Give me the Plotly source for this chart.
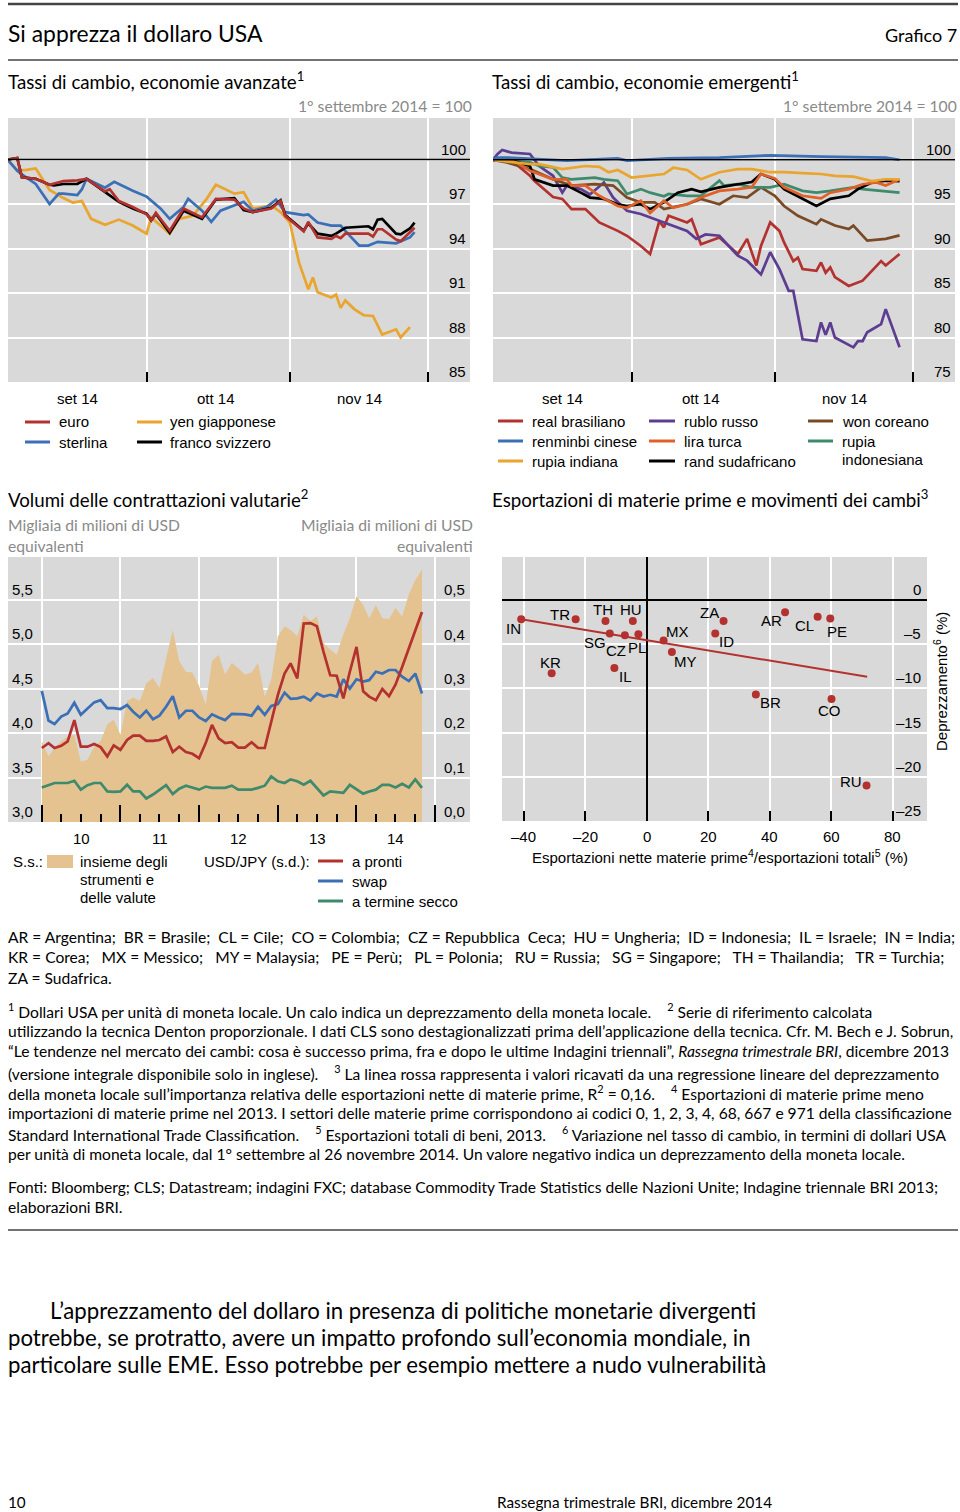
import plotly.graph_objects as go
import pandas as pd

W, H = 960, 1512
SANS = "Liberation Sans, Arial, sans-serif"
LATO = "Lato, Open Sans, sans-serif"

# ---------------- data: advanced economies (day offset from 1 Sep 2014, index) ----------------
eur_days = [0, 2, 3, 6, 9, 12, 15, 17, 21, 22, 24, 27, 30, 31, 32, 35, 38, 42, 45, 49, 51, 53, 57, 59, 60, 64, 65, 67, 70, 71, 72, 73, 78, 79, 80, 81, 84, 85, 87, 88]
eur_vals = [100.0, 100.1, 98.8, 98.7, 98.3, 98.55, 98.6, 98.7, 97.85, 98.0, 97.2, 96.8, 96.3, 95.9, 96.4, 95.2, 96.7, 96.1, 97.35, 97.3, 96.7, 96.45, 96.7, 97.2, 96.2, 95.15, 95.8, 94.75, 94.65, 94.85, 94.7, 95.0, 95.0, 94.8, 95.3, 95.3, 94.6, 94.5, 95.1, 95.4]
chf_days = [0, 2, 3, 6, 9, 10, 12, 15, 17, 21, 24, 27, 30, 31, 32, 35, 38, 42, 45, 49, 51, 53, 57, 59, 60, 64, 65, 67, 70, 71, 72, 73, 78, 79, 80, 81, 84, 85, 87, 88]
chf_vals = [100.0, 100.1, 98.8, 98.7, 98.3, 98.25, 98.35, 98.35, 98.7, 97.8, 97.15, 96.7, 96.35, 95.9, 96.35, 95.05, 96.55, 96.0, 97.3, 97.4, 96.6, 96.45, 96.75, 97.25, 96.25, 95.2, 95.7, 95.0, 94.85, 95.0, 95.2, 95.4, 95.5, 95.3, 95.95, 96.0, 95.0, 94.95, 95.35, 95.75]
gbp_days = [0, 2, 3, 6, 9, 11, 12, 15, 16, 17, 21, 23, 27, 30, 33, 35, 38, 39, 42, 44, 46, 49, 51, 53, 56, 58, 60, 63, 64, 65, 67, 70, 72, 74, 76, 78, 80, 84, 87, 88]
gbp_vals = [99.95, 99.25, 99.0, 98.35, 97.0, 97.7, 97.7, 97.6, 98.0, 98.7, 98.1, 98.5, 97.9, 97.5, 96.7, 96.0, 96.8, 97.35, 96.55, 95.8, 96.55, 96.9, 97.15, 96.55, 96.8, 97.3, 96.45, 96.3, 96.25, 96.3, 95.75, 95.55, 95.55, 94.85, 94.2, 94.2, 94.45, 94.35, 94.75, 95.1]
jpy_days = [0, 2, 4, 6, 9, 12, 14, 16, 18, 21, 24, 27, 30, 31, 33, 35, 37, 40, 43, 45, 49, 51, 53, 57, 59, 61, 63, 65, 66, 67, 70, 71, 72, 73, 75, 77, 79, 81, 84, 85, 87]
jpy_vals = [100.0, 99.25, 99.3, 99.4, 97.95, 97.4, 97.1, 97.2, 96.0, 95.6, 95.95, 95.55, 95.0, 96.1, 95.55, 95.0, 96.0, 96.2, 97.35, 98.3, 97.7, 97.8, 96.7, 96.9, 96.45, 95.75, 93.05, 91.25, 92.05, 91.05, 90.7, 90.9, 90.0, 90.5, 89.9, 89.5, 89.45, 88.2, 88.55, 88.0, 88.7]

# ---------------- data: emerging economies ----------------
brl_days = [0, 1, 5, 8, 9, 13, 15, 17, 20, 23, 27, 29, 32, 34, 36, 37, 38, 42, 43, 45, 49, 53, 55, 57, 58, 60, 62, 63, 65, 66, 67, 70, 71, 72, 73, 74, 77, 80, 84, 85, 88]
brl_vals = [99.9, 100.1, 99.5, 98.2, 97.6, 95.8, 95.6, 94.45, 94.45, 92.95, 92.0, 91.45, 90.3, 89.4, 93.1, 92.4, 93.7, 92.95, 93.3, 90.5, 91.25, 89.4, 91.1, 88.1, 90.3, 92.95, 92.0, 90.7, 88.6, 89.0, 87.7, 87.5, 88.45, 87.3, 87.9, 86.8, 85.8, 86.4, 88.6, 88.1, 89.4]
cny_days = [0, 1, 3, 16, 27, 29, 38, 49, 60, 71, 85, 88]
cny_vals = [100.0, 100.25, 100.25, 99.9, 100.15, 99.9, 100.15, 100.25, 100.5, 100.35, 100.25, 100.0]
inr_days = [0, 3, 8, 10, 15, 20, 23, 25, 27, 30, 34, 37, 39, 42, 45, 49, 53, 56, 60, 63, 67, 71, 74, 78, 82, 85, 88]
inr_vals = [100.0, 99.8, 99.5, 99.5, 98.95, 99.3, 99.2, 98.6, 98.85, 98.0, 98.2, 98.4, 99.1, 98.85, 97.8, 98.6, 98.95, 98.95, 98.6, 98.6, 98.5, 98.4, 98.2, 98.1, 97.6, 97.8, 97.8]
rub_days = [0, 1, 2, 4, 8, 10, 13, 15, 16, 19, 21, 24, 26, 29, 32, 34, 37, 42, 44, 46, 49, 53, 55, 58, 60, 62, 64, 65, 67, 70, 71, 72, 73, 74, 78, 79, 80, 81, 84, 85, 88]
rub_vals = [100.0, 100.65, 101.1, 100.8, 100.65, 99.3, 98.2, 96.3, 97.1, 96.7, 96.1, 97.45, 95.75, 94.25, 93.9, 93.5, 92.95, 92.0, 91.1, 91.6, 91.45, 89.2, 88.65, 87.1, 89.6, 87.7, 85.25, 85.25, 79.8, 79.6, 81.7, 80.3, 81.7, 80.0, 78.9, 79.6, 79.6, 80.6, 81.5, 83.2, 78.9]
try_days = [0, 3, 5, 8, 13, 16, 17, 20, 23, 27, 29, 32, 34, 37, 39, 42, 45, 49, 53, 56, 58, 61, 63, 67, 71, 73, 77, 79, 80, 83, 85, 88]
try_vals = [100.0, 100.1, 99.7, 98.75, 97.8, 97.8, 97.1, 97.1, 95.95, 94.8, 94.6, 95.4, 94.0, 95.4, 94.6, 95.0, 95.75, 96.5, 96.7, 96.9, 98.4, 97.9, 96.9, 95.95, 95.65, 96.3, 96.7, 97.1, 97.25, 97.45, 97.1, 97.8]
zar_days = [0, 3, 8, 9, 13, 16, 19, 21, 24, 27, 29, 32, 34, 37, 40, 43, 45, 49, 53, 56, 58, 61, 63, 67, 70, 73, 77, 79, 82, 85, 88]
zar_vals = [100.0, 100.1, 99.3, 97.8, 97.1, 97.1, 96.3, 95.75, 95.6, 95.0, 94.8, 95.0, 94.45, 95.2, 96.3, 96.7, 96.4, 96.9, 97.25, 97.5, 98.4, 97.8, 96.7, 95.6, 94.8, 95.6, 95.95, 96.7, 97.45, 97.65, 97.6]
krw_days = [0, 3, 8, 13, 17, 22, 26, 29, 32, 35, 37, 42, 45, 49, 52, 55, 58, 61, 63, 66, 70, 71, 74, 77, 78, 81, 85, 88]
krw_vals = [100.0, 99.7, 98.95, 97.8, 97.1, 97.25, 97.1, 95.75, 95.2, 95.2, 94.45, 95.0, 95.6, 95.0, 95.95, 95.75, 96.9, 95.95, 94.8, 93.7, 92.75, 93.3, 92.6, 92.2, 92.6, 90.9, 91.1, 91.5]
idr_days = [0, 3, 8, 10, 13, 15, 17, 22, 24, 27, 29, 32, 34, 37, 38, 42, 45, 49, 50, 53, 56, 60, 63, 67, 70, 73, 78, 80, 85, 88]
idr_vals = [100.0, 99.9, 99.7, 99.3, 99.15, 98.0, 97.8, 98.0, 97.8, 97.65, 96.15, 96.7, 96.3, 95.9, 96.15, 95.95, 95.95, 97.65, 97.1, 97.25, 96.9, 96.9, 97.25, 96.5, 96.3, 96.5, 96.9, 96.7, 96.5, 96.3]

# ---------------- data: FX turnover (monthly from Jan 2010) ----------------
fx_total = [3.91, 3.74, 3.83, 3.91, 3.96, 3.98, 3.68, 3.70, 3.85, 3.91,
            4.10, 4.15, 3.98, 4.36, 4.40, 4.36, 4.56, 4.62, 4.51, 4.84,
            5.16, 4.81, 4.69, 4.68, 4.53, 4.32, 4.81, 4.88, 4.66, 4.79,
            4.73, 4.66, 4.68, 4.79, 4.41, 4.60, 5.09, 5.20, 5.16, 5.09,
            5.33, 5.26, 5.31, 5.01, 4.94, 4.88, 5.11, 5.29, 5.54, 5.44,
            5.29, 5.44, 5.29, 5.28, 5.41, 5.31, 5.56, 5.72, 5.84]
jpy_spot = [0.167, 0.178, 0.167, 0.172, 0.182, 0.230, 0.170, 0.170, 0.176, 0.169,
            0.148, 0.173, 0.163, 0.185, 0.195, 0.195, 0.183, 0.183, 0.185, 0.193,
            0.158, 0.170, 0.158, 0.154, 0.144, 0.178, 0.219, 0.189, 0.178, 0.180,
            0.168, 0.168, 0.180, 0.167, 0.167, 0.227, 0.287, 0.335, 0.358, 0.324,
            0.448, 0.449, 0.442, 0.384, 0.331, 0.330, 0.279, 0.339, 0.395, 0.295,
            0.283, 0.275, 0.300, 0.284, 0.310, 0.350, 0.391, 0.429, 0.474]
jpy_swap = [0.296, 0.229, 0.221, 0.238, 0.245, 0.269, 0.242, 0.257, 0.270, 0.275,
            0.257, 0.257, 0.255, 0.264, 0.249, 0.236, 0.251, 0.232, 0.240, 0.260,
            0.284, 0.236, 0.251, 0.251, 0.236, 0.228, 0.243, 0.236, 0.230, 0.244,
            0.244, 0.243, 0.240, 0.260, 0.242, 0.262, 0.266, 0.292, 0.278, 0.279,
            0.283, 0.274, 0.290, 0.283, 0.287, 0.283, 0.322, 0.301, 0.322, 0.317,
            0.320, 0.339, 0.335, 0.343, 0.343, 0.328, 0.318, 0.335, 0.290]
jpy_fwd = [0.078, 0.084, 0.088, 0.088, 0.088, 0.093, 0.073, 0.083, 0.088, 0.088,
           0.069, 0.068, 0.069, 0.084, 0.069, 0.069, 0.053, 0.062, 0.073, 0.083,
           0.063, 0.075, 0.082, 0.077, 0.073, 0.080, 0.077, 0.077, 0.077, 0.082,
           0.073, 0.073, 0.073, 0.077, 0.082, 0.103, 0.092, 0.088, 0.096, 0.092,
           0.084, 0.093, 0.077, 0.060, 0.069, 0.068, 0.066, 0.084, 0.073, 0.064,
           0.069, 0.073, 0.084, 0.084, 0.078, 0.086, 0.078, 0.096, 0.077]

# ---------------- data: commodity exports vs depreciation ----------------
codes = ["IN", "TR", "TH", "HU", "SG", "CZ", "PL", "IL", "KR", "MX", "MY", "ZA", "ID", "AR", "CL", "PE", "BR", "CO", "RU"]
net_exports = [-40.9, -23.2, -13.5, -4.6, -12.1, -7.2, -2.8, -10.6, -31.0, 5.4, 8.1, 24.9, 22.2, 44.9, 55.5, 59.6, 35.4, 60.0, 71.4]
depreciation = [-2.2, -2.2, -2.4, -2.4, -3.8, -4.0, -3.9, -7.7, -8.3, -4.6, -5.9, -2.4, -3.8, -1.4, -1.9, -2.1, -10.7, -11.2, -21.0]
fit_x = [-40.9, 71.6]
fit_y = [-2.2, -8.7]

adv_ticks = [85, 88, 91, 94, 97, 100]
eme_ticks = [75, 80, 85, 90, 95, 100]
vol_ticks_l = [3.0, 3.5, 4.0, 4.5, 5.0, 5.5]
vol_ticks_r = [0.0, 0.1, 0.2, 0.3, 0.4, 0.5]
sc_xticks = [-40, -20, 0, 20, 40, 60, 80]
sc_yticks = [0, -5, -10, -15, -20, -25]
month_labels = ["set 14", "ott 14", "nov 14"]
year_labels = ["10", "11", "12", "13", "14"]

# ---------------- colours ----------------
RED = "#b3322f"
BLUE = "#3b6fb6"
YEL = "#e9a52d"
BLK = "#000000"
PUR = "#5c3d91"
ORA = "#e0602a"
BRN = "#7a4a25"
GRN = "#3e8a6c"
TAN = "#e5c390"
BG = "#d9d9d9"

base = pd.Timestamp("2014-09-01")
def to_dates(days):
    return [(base + pd.Timedelta(days=d)).strftime("%Y-%m-%d") for d in days]

months = pd.date_range("2010-01-01", periods=len(fx_total), freq="MS").strftime("%Y-%m-%d").tolist()

def px(x):
    return x / W
def py(y):
    return 1 - y / H

fig = go.Figure()
LW = 2.7

# panel 1
for d, v, c in [(jpy_days, jpy_vals, YEL), (gbp_days, gbp_vals, BLUE), (chf_days, chf_vals, BLK), (eur_days, eur_vals, RED)]:
    fig.add_trace(go.Scatter(x=to_dates(d), y=v, mode="lines", line=dict(color=c, width=LW), xaxis="x", yaxis="y", showlegend=False))
# panel 2
for d, v, c in [(brl_days, brl_vals, RED), (rub_days, rub_vals, PUR), (krw_days, krw_vals, BRN), (idr_days, idr_vals, GRN),
                (zar_days, zar_vals, BLK), (try_days, try_vals, ORA), (inr_days, inr_vals, YEL), (cny_days, cny_vals, BLUE)]:
    fig.add_trace(go.Scatter(x=to_dates(d), y=v, mode="lines", line=dict(color=c, width=LW), xaxis="x2", yaxis="y2", showlegend=False))
# panel 3
fig.add_trace(go.Scatter(x=months, y=fx_total, mode="none", fill="tozeroy", fillcolor=TAN, xaxis="x3", yaxis="y3", showlegend=False))
for v, c in [(jpy_fwd, GRN), (jpy_swap, BLUE), (jpy_spot, RED)]:
    fig.add_trace(go.Scatter(x=months, y=v, mode="lines", line=dict(color=c, width=LW), xaxis="x3", yaxis="y4", showlegend=False))
# panel 4
fig.add_trace(go.Scatter(x=fit_x, y=fit_y, mode="lines", line=dict(color=RED, width=2), xaxis="x5", yaxis="y5", showlegend=False))
fig.add_trace(go.Scatter(x=net_exports, y=depreciation, mode="markers", marker=dict(color=RED, size=8), xaxis="x5", yaxis="y5", showlegend=False))

GRID = dict(showgrid=True, gridcolor="white", gridwidth=1.5, zeroline=False, showline=False, showticklabels=False)

top_y = [py(382), py(118)]
date_range = ["2014-09-01", "2014-12-10"]
tick_dates = ["2014-10-01", "2014-11-01", "2014-12-01"]
xa_top = dict(GRID, type="date", range=date_range, tickmode="array", tickvals=tick_dates, ticks="inside", ticklen=10, tickwidth=1.5, tickcolor="black")

layout = dict(
    width=W, height=H, margin=dict(l=0, r=0, t=0, b=0), paper_bgcolor="white", plot_bgcolor=BG,
    font=dict(family=SANS, size=15, color="black"), showlegend=False,
    xaxis=dict(xa_top, domain=[px(8), px(470)], anchor="y"),
    yaxis=dict(GRID, domain=top_y, range=[85, 102.8], tickmode="array", tickvals=adv_ticks, anchor="x"),
    xaxis2=dict(xa_top, domain=[px(493), px(955)], anchor="y2"),
    yaxis2=dict(GRID, domain=top_y, range=[75, 104.7], tickmode="array", tickvals=eme_ticks, anchor="x2"),
    xaxis3=dict(GRID, type="date", domain=[px(8), px(470)], range=["2009-07-28", "2015-06-12"], anchor="y3",
                tickmode="array", tickvals=[f"{y}-01-01" for y in range(2010, 2016)], ticks="inside", ticklen=17, tickwidth=1.5, tickcolor="black",
                minor=dict(tickmode="array", tickvals=[f"{y}-{m:02d}-01" for y in range(2010, 2015) for m in (4, 7, 10)], ticks="inside", ticklen=8, tickwidth=1.5, tickcolor="black", showgrid=False)),
    yaxis3=dict(GRID, domain=[py(822), py(557)], range=[3.0, 5.98], tickmode="array", tickvals=vol_ticks_l, anchor="x3"),
    yaxis4=dict(showgrid=False, zeroline=False, showline=False, showticklabels=False, overlaying="y3", side="right", range=[0.0, 0.598], anchor="x3"),
    xaxis5=dict(GRID, domain=[px(502), px(927)], range=[-47.15, 91.06], tickmode="array", tickvals=sc_xticks, anchor="y5",
                zeroline=True, zerolinecolor="black", zerolinewidth=1.5, ticks="inside", ticklen=10, tickwidth=1.5, tickcolor="black"),
    yaxis5=dict(GRID, domain=[py(821), py(557)], range=[-25, 4.84], tickmode="array", tickvals=sc_yticks, anchor="x5",
                zeroline=True, zerolinecolor="black", zerolinewidth=1.5),
)
fig.update_layout(**layout)

anns = []
shapes = []

def T(text, x, y, size=15, color="black", family=SANS, xa="left", ya="middle", **kw):
    if xa == "left":
        x -= 2
    elif xa == "right":
        x += 2
    anns.append(dict(text=text, x=px(x), y=py(y), xref="paper", yref="paper", xanchor=xa, yanchor=ya,
                     showarrow=False, font=dict(size=size, color=color, family=family), **kw))

def key(x0, x1, y, color, width=3):
    shapes.append(dict(type="line", xref="paper", yref="paper", x0=px(x0), x1=px(x1), y0=py(y), y1=py(y), line=dict(color=color, width=width)))

# rules
for yy, w in [(4, 2.5), (60, 1.5), (1230, 1.5)]:
    shapes.append(dict(type="line", xref="paper", yref="paper", x0=px(8), x1=px(958), y0=py(yy), y1=py(yy), line=dict(color="#444", width=w)))

# reference lines at 100
for xr, yr in [("x domain", "y"), ("x2 domain", "y2")]:
    shapes.append(dict(type="line", xref=xr, yref=yr, x0=0, x1=1, y0=100, y1=100, line=dict(color="black", width=1.5)))

TITLE = 18.7
SUB = 15.7
# header
T("Si apprezza il dollaro USA", 8, 33, size=22.9, family=LATO)
T("Grafico 7", 957, 35, size=18, family=LATO, xa="right")
T("Tassi di cambio, economie avanzate<sup>1</sup>", 8, 80, size=TITLE, family=LATO)
T("1° settembre 2014 = 100", 472, 106, size=SUB, family=LATO, color="#8a8a8a", xa="right")
T("Tassi di cambio, economie emergenti<sup>1</sup>", 492, 80, size=TITLE, family=LATO)
T("1° settembre 2014 = 100", 957, 106, size=SUB, family=LATO, color="#8a8a8a", xa="right")

# axis labels via scales
def ylabels(xref, yref, vals, texts, side="right", shift=-2):
    for v, t in zip(vals, texts):
        anns.append(dict(text=t, xref=xref, x=1 if side == "right" else 0, yref=yref, y=v,
                         xanchor=side if side == "right" else "left", yanchor="bottom", xshift=shift, yshift=0,
                         showarrow=False, font=dict(size=15, family=SANS, color="black")))

ylabels("x domain", "y", adv_ticks, [str(v) for v in adv_ticks])
ylabels("x2 domain", "y2", eme_ticks, [str(v) for v in eme_ticks])
ylabels("x3 domain", "y3", vol_ticks_l, [f"{v:.1f}".replace(".", ",") for v in vol_ticks_l], side="left", shift=2)
ylabels("x3 domain", "y4", vol_ticks_r, [f"{v:.1f}".replace(".", ",") for v in vol_ticks_r], shift=-3)
ylabels("x5 domain", "y5", sc_yticks, [str(v).replace("-", "–") for v in sc_yticks], shift=-4)

month_mids = ["2014-09-16", "2014-10-16", "2014-11-16"]
for xr, yr in [("x", "y domain"), ("x2", "y2 domain")]:
    for m, t in zip(month_mids, month_labels):
        anns.append(dict(text=t, xref=xr, x=m, yref=yr, y=0, xanchor="center", yanchor="top", yshift=-6,
                         showarrow=False, font=dict(size=15, family=SANS)))
for yl, t in zip(range(2010, 2015), year_labels):
    anns.append(dict(text=t, xref="x3", x=f"{yl}-07-02", yref="y3 domain", y=0, xanchor="center", yanchor="top", yshift=-6,
                     showarrow=False, font=dict(size=15, family=SANS)))
for v in sc_xticks:
    anns.append(dict(text=str(v).replace("-", "–"), xref="x5", x=v, yref="y5 domain", y=0, xanchor="center", yanchor="top", yshift=-5,
                     showarrow=False, font=dict(size=15, family=SANS)))

# scatter point labels (offset in px: right, up)
offsets = {"IN": (-8, -9), "TR": (-16, 5), "TH": (-2, 12), "HU": (-2, 12), "SG": (-15, -9), "CZ": (-9, -15),
           "PL": (-1, -13), "IL": (11, -9), "KR": (-1, 11), "MX": (14, 9), "MY": (14, -9), "ZA": (-14, 9),
           "ID": (11, -8), "AR": (-14, -8), "CL": (-13, -9), "PE": (7, -13), "BR": (15, -8), "CO": (-2, -12), "RU": (-16, 4)}
for c, xv, yv in zip(codes, net_exports, depreciation):
    dx, dy = offsets[c]
    anns.append(dict(text=c, xref="x5", x=xv, yref="y5", y=yv, xanchor="center", yanchor="middle", xshift=dx, yshift=dy,
                     showarrow=False, font=dict(size=15, family=SANS)))

T("Deprezzamento<sup>6</sup> (%)", 940, 682, xa="center", textangle=-90)
T("Esportazioni nette materie prime<sup>4</sup>/esportazioni totali<sup>5</sup> (%)", 720, 857, xa="center")

# legends panel 1
key(25, 50, 422, RED); T("euro", 59, 422)
key(25, 50, 442, BLUE); T("sterlina", 59, 442)
key(137, 162, 422, YEL); T("yen giapponese", 170, 422)
key(137, 162, 442, BLK); T("franco svizzero", 170, 442)
# legends panel 2
key(498, 523, 421, RED); T("real brasiliano", 532, 421)
key(498, 523, 441, BLUE); T("renminbi cinese", 532, 441)
key(498, 523, 461, YEL); T("rupia indiana", 532, 461)
key(649, 675, 421, PUR); T("rublo russo", 684, 421)
key(649, 675, 441, ORA); T("lira turca", 684, 441)
key(649, 675, 461, BLK); T("rand sudafricano", 684, 461)
key(808, 833, 421, BRN); T("won coreano", 842, 421)
key(808, 833, 441, GRN); T("rupia", 842, 441)
T("indonesiana", 842, 459)

# panel 3/4 titles
T("Volumi delle contrattazioni valutarie<sup>2</sup>", 8, 499, size=TITLE, family=LATO)
T("Migliaia di milioni di USD", 8, 525, size=SUB, family=LATO, color="#8a8a8a")
T("equivalenti", 8, 546, size=SUB, family=LATO, color="#8a8a8a")
T("Migliaia di milioni di USD", 473, 525, size=SUB, family=LATO, color="#8a8a8a", xa="right")
T("equivalenti", 473, 546, size=SUB, family=LATO, color="#8a8a8a", xa="right")
T("Esportazioni di materie prime e movimenti dei cambi<sup>3</sup>", 492, 499, size=TITLE, family=LATO)

# panel 3 legend
T("S.s.:", 13, 861)
shapes.append(dict(type="rect", xref="paper", yref="paper", x0=px(47), x1=px(73), y0=py(868), y1=py(855), fillcolor=TAN, line=dict(width=0)))
T("insieme degli", 80, 861)
T("strumenti e", 80, 879)
T("delle valute", 80, 897)
T("USD/JPY (s.d.):", 204, 861)
key(318, 343, 861, RED); T("a pronti", 352, 861)
key(318, 343, 881, BLUE); T("swap", 352, 881)
key(318, 343, 901, GRN); T("a termine secco", 352, 901)

# footnotes
NB = "\u00a0"
notes = [
    (937, f"AR = Argentina;{NB*2}BR = Brasile;{NB*2}CL = Cile;{NB*2}CO = Colombia;{NB*2}CZ = Repubblica{NB*2}Ceca;{NB*2}HU = Ungheria;{NB*2}ID = Indonesia;{NB*2}IL = Israele;{NB*2}IN = India;"),
    (957, f"KR = Corea;{NB*3}MX = Messico;{NB*3}MY = Malaysia;{NB*3}PE = Perù;{NB*3}PL = Polonia;{NB*3}RU = Russia;{NB*3}SG = Singapore;{NB*3}TH = Thailandia;{NB*3}TR = Turchia;"),
    (978, "ZA = Sudafrica."),
    (1010, f"<sup>1</sup> Dollari USA per unità di moneta locale. Un calo indica un deprezzamento della moneta locale.{NB*4}<sup>2</sup> Serie di riferimento calcolata"),
    (1031, "utilizzando la tecnica Denton proporzionale. I dati CLS sono destagionalizzati prima dell’applicazione della tecnica. Cfr. M. Bech e J. Sobrun,"),
    (1051, "“Le tendenze nel mercato dei cambi: cosa è successo prima, fra e dopo le ultime Indagini triennali”, <i>Rassegna trimestrale BRI</i>, dicembre 2013"),
    (1072, f"(versione integrale disponibile solo in inglese).{NB*4}<sup>3</sup> La linea rossa rappresenta i valori ricavati da una regressione lineare del deprezzamento"),
    (1092, f"della moneta locale sull’importanza relativa delle esportazioni nette di materie prime, R<sup>2</sup> = 0,16.{NB*4}<sup>4</sup> Esportazioni di materie prime meno"),
    (1113, "importazioni di materie prime nel 2013. I settori delle materie prime corrispondono ai codici 0, 1, 2, 3, 4, 68, 667 e 971 della classificazione"),
    (1133, f"Standard International Trade Classification.{NB*4}<sup>5</sup> Esportazioni totali di beni, 2013.{NB*4}<sup>6</sup> Variazione nel tasso di cambio, in termini di dollari USA"),
    (1154, "per unità di moneta locale, dal 1° settembre al 26 novembre 2014. Un valore negativo indica un deprezzamento della moneta locale."),
    (1187, "Fonti: Bloomberg; CLS; Datastream; indagini FXC; database Commodity Trade Statistics delle Nazioni Unite; Indagine triennale BRI 2013;"),
    (1207, "elaborazioni BRI."),
]
for yy, t in notes:
    T(t, 8, yy, size=15.6, family=LATO)

# body text
T("L’apprezzamento del dollaro in presenza di politiche monetarie divergenti", 50, 1310, size=22.2, family=LATO)
T("potrebbe, se protratto, avere un impatto profondo sull’economia mondiale, in", 8, 1337, size=22.2, family=LATO)
T("particolare sulle EME. Esso potrebbe per esempio mettere a nudo vulnerabilità", 8, 1364, size=22.2, family=LATO)
T("10", 8, 1502, size=15.3, family=LATO)
T("Rassegna trimestrale BRI, dicembre 2014", 497, 1502, size=15.3, family=LATO)

fig.update_layout(annotations=anns, shapes=shapes)
fig.write_html("out.html")
